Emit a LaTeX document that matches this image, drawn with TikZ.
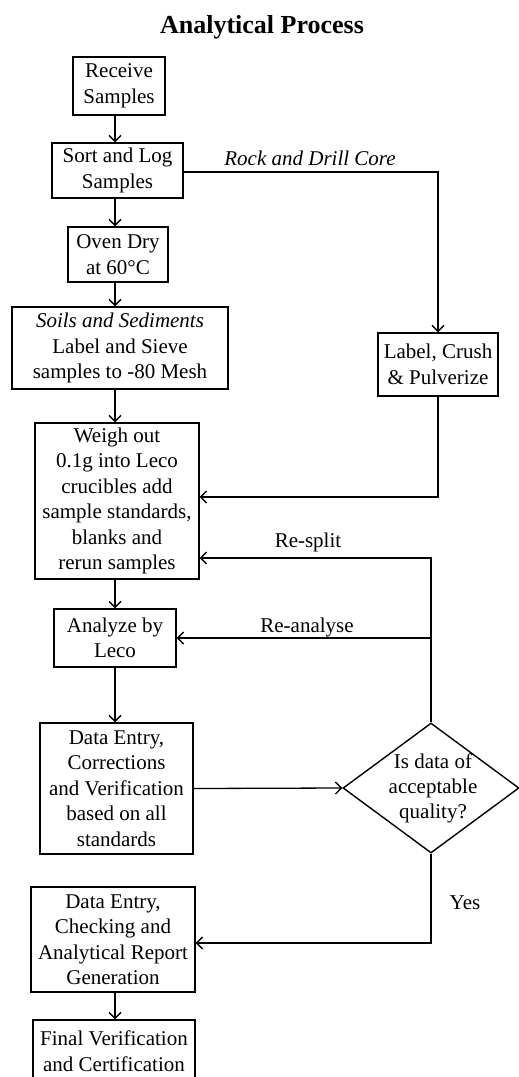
\documentclass[tikz,border=0pt]{standalone}
\usepackage{fontspec}
\setmainfont{Liberation Serif}
\usetikzlibrary{arrows.meta,shapes.geometric}
\begin{document}
\begin{tikzpicture}[x=1pt,y=-1pt,
  box/.style={draw,line width=1.4pt,inner sep=0pt,align=center,font=\fontsize{21}{25.5}\selectfont},
  flow/.style={line width=1.3pt,-{Straight Barb[length=6pt,width=12pt,line width=1.3pt]}},
  wire/.style={line width=1.3pt},
  lbl/.style={font=\fontsize{21}{25}\selectfont,inner sep=0pt}]
\useasboundingbox (0,0) rectangle (519,1077);
\fill[white] (0,0) rectangle (519,1077);
\node[font=\bfseries\fontsize{26}{30}\selectfont] (title) at (262,27) {Analytical Process};
\coordinate (ax) at (115,0);
\node[box,minimum width=92pt,minimum height=58pt] (receive) at (119,86) {Receive\\Samples};
\node[box,minimum width=131pt,minimum height=55pt] (sort) at (117.5,170.5) {Sort and Log\\Samples};
\node[box,minimum width=100pt,minimum height=55pt] (oven) at (118,254.5) {Oven Dry\\at 60°C};
\node[box,minimum width=216pt,minimum height=82pt] (soils) at (120,348) {\textit{Soils and Sediments}\\Label and Sieve\\samples to -80 Mesh};
\node[box,minimum width=120pt,minimum height=63pt] (crush) at (438,364.5) {Label, Crush\\\& Pulverize};
\node[box,minimum width=164pt,minimum height=156pt] (weigh) at (117,501) {Weigh out\\0.1g into Leco\\crucibles add\\sample standards,\\blanks and\\rerun samples};
\node[box,minimum width=122pt,minimum height=58pt] (analyze) at (115,638) {Analyze by\\Leco};
\node[box,minimum width=153pt,minimum height=131pt] (data) at (116.5,788.5) {Data Entry,\\Corrections\\and Verification\\based on all\\standards};
\node[draw,diamond,line width=1.4pt,inner sep=0pt,minimum width=176pt,minimum height=130pt] (dia) at (431,788) {};
\node[lbl,align=center] (dtext) at (433,788) {Is data of\\acceptable\\quality?};
\node[box,minimum width=164pt,minimum height=105pt] (check) at (113,939.5) {Data Entry,\\Checking and\\Analytical Report\\Generation};
\node[box,minimum width=162pt,minimum height=62pt] (final) at (114,1051) {Final Verification\\and Certification};

\draw[flow] (receive.south -| ax) -- (sort.north -| ax);
\draw[flow] (sort.south -| ax) -- (oven.north -| ax);
\draw[flow] (oven.south -| ax) -- (soils.north -| ax);
\draw[flow] (soils.south -| ax) -- (weigh.north -| ax);
\draw[flow] (weigh.south -| ax) -- (analyze.north -| ax);
\draw[flow] (analyze.south -| ax) -- (data.north -| ax);
\draw[flow] (check.south -| ax) -- (final.north -| ax);

\draw[flow] ([yshift=-1.5pt]sort.east) -| (crush.north);
\node[lbl,font=\itshape\fontsize{21}{25}\selectfont] (rdc) at (310,158) {Rock and Drill Core};
\draw[flow] (crush.south) |- ([yshift=4pt]weigh.east);
\draw[flow] (dia.north) |- ([yshift=-57pt]weigh.east);
\node[lbl] (resplit) at (308,542) {Re-split};
\draw[flow] (dia.north |- analyze.east) -- (analyze.east);
\node[lbl] (reanalyse) at (307,627) {Re-analyse};
\draw[flow] (data.east) -- (dia.west);
\draw[flow] (dia.south) |- ([yshift=-3.5pt]check.east);
\node[lbl] (yes) at (465,903) {Yes};
\end{tikzpicture}
\end{document}
